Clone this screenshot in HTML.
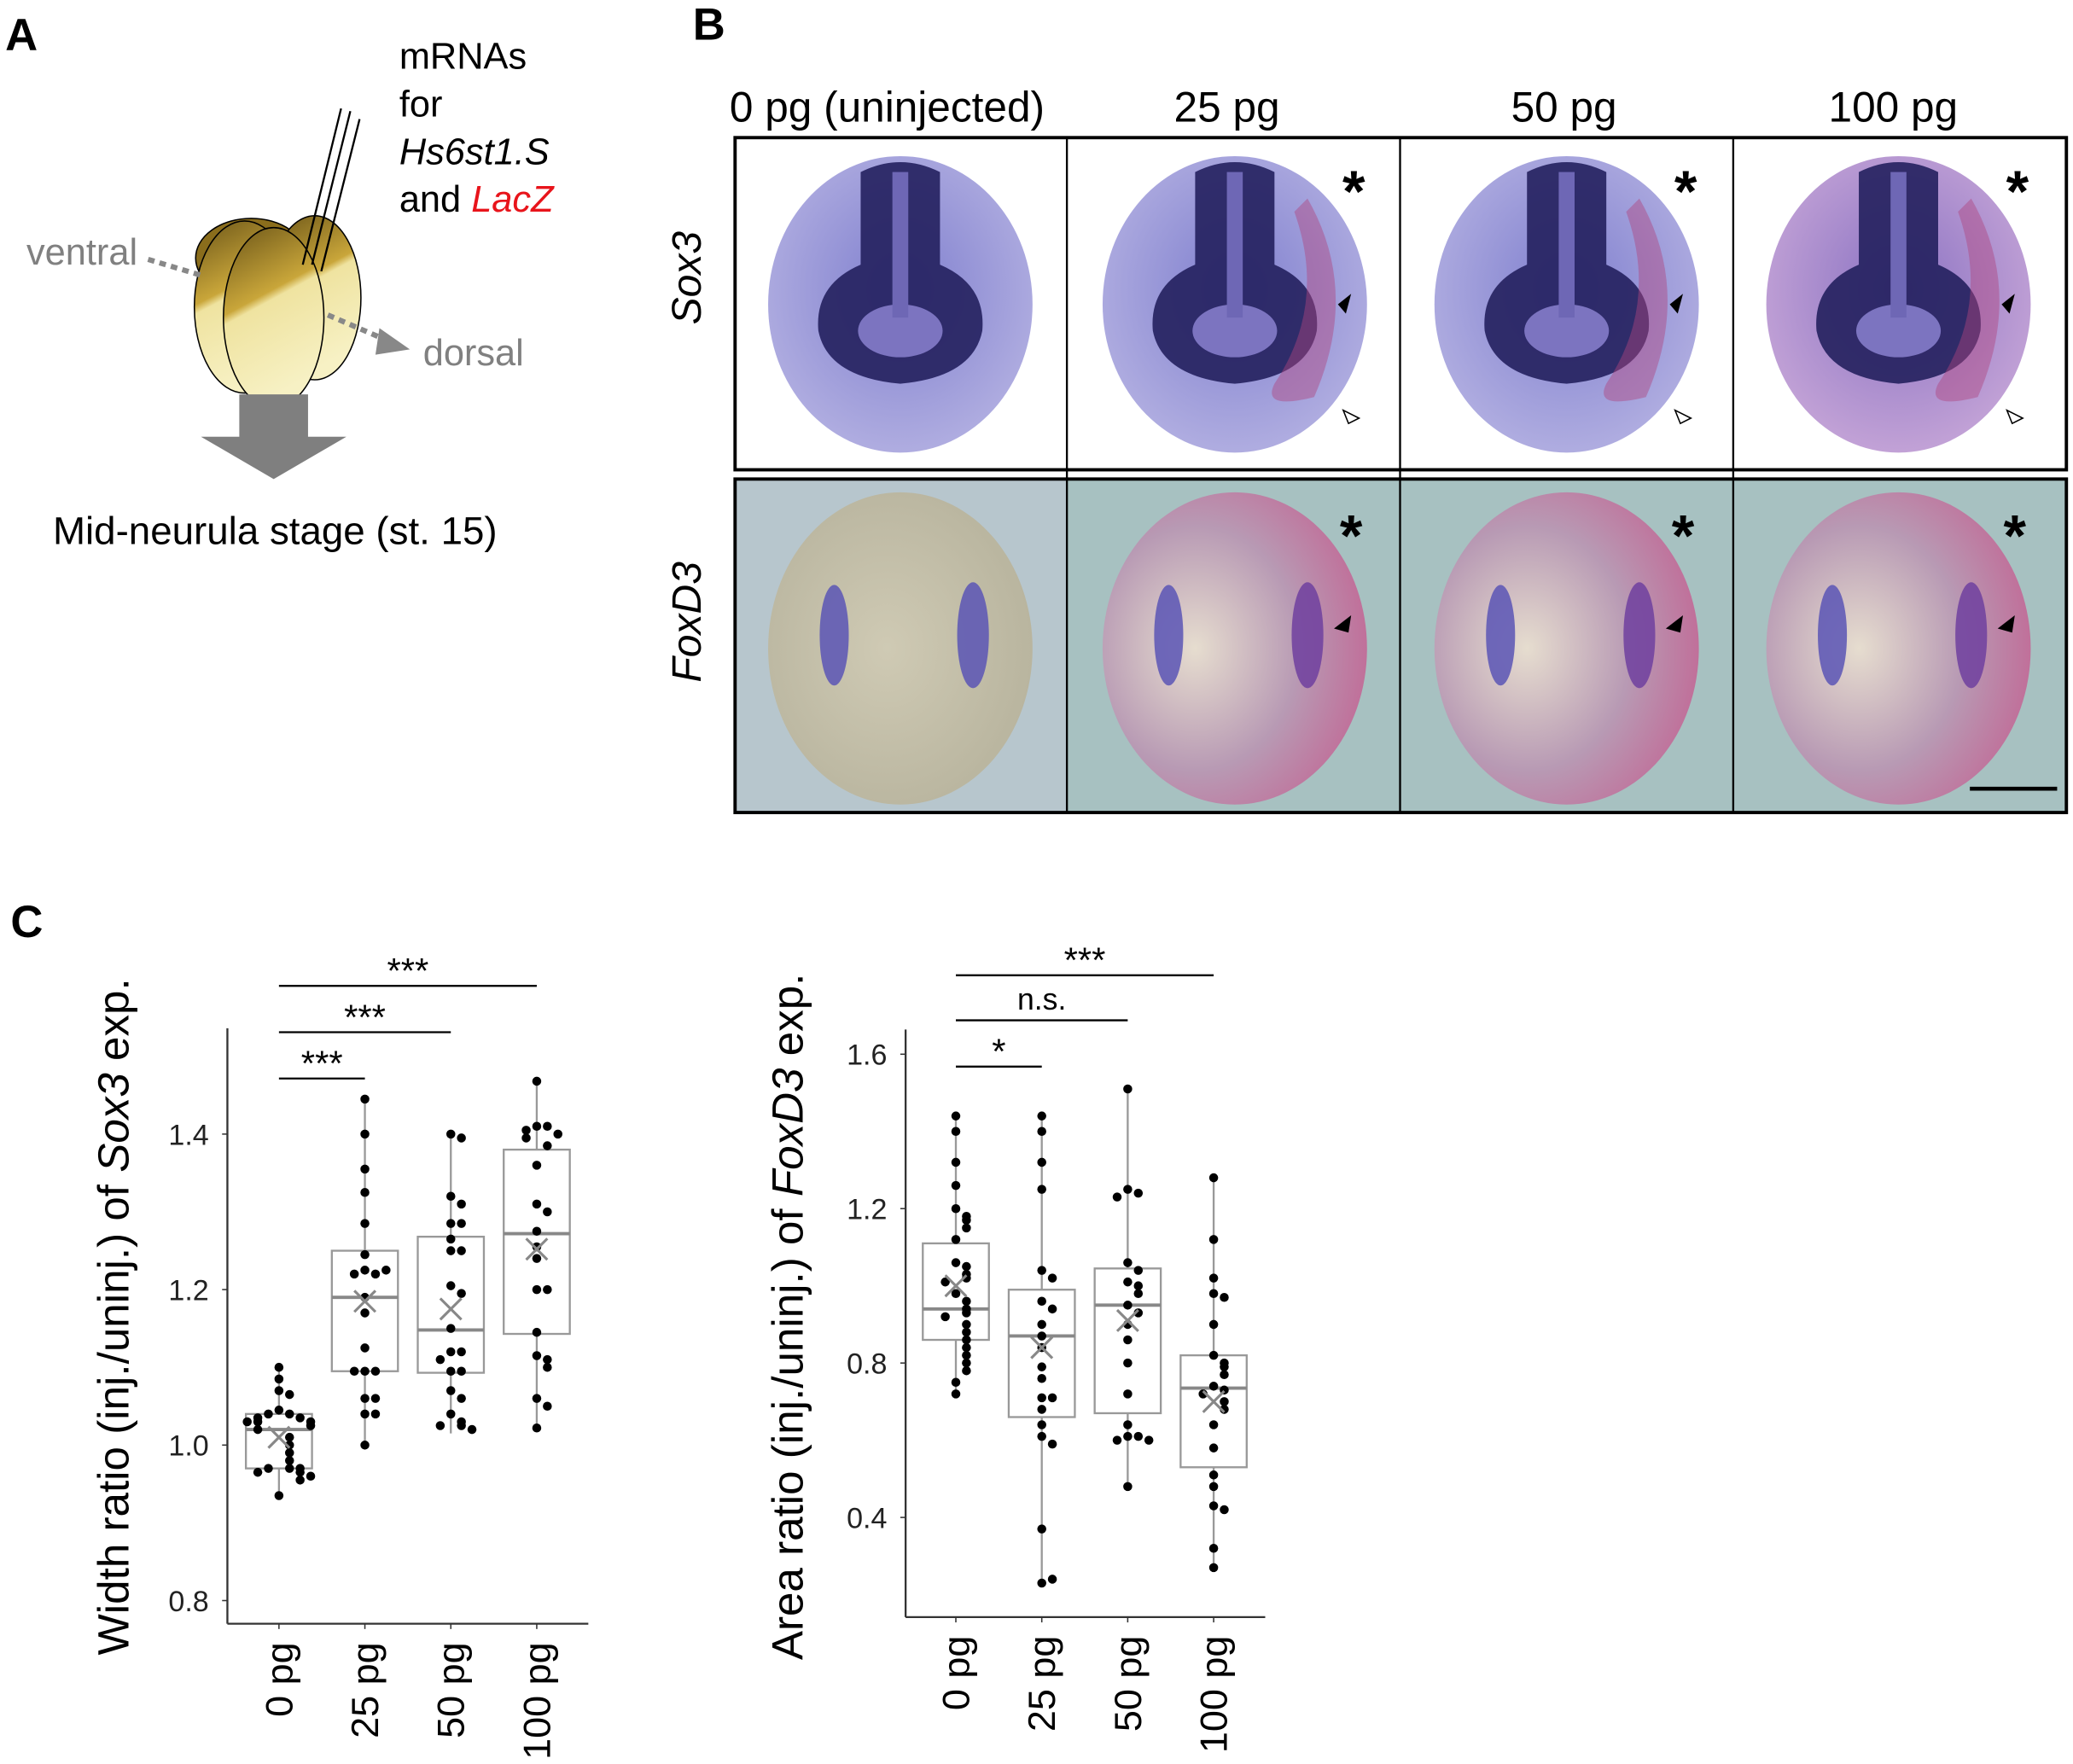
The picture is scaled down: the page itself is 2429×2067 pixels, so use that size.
<!DOCTYPE html>
<html><head><meta charset="utf-8">
<style>
html,body{margin:0;padding:0;background:#fff;}
svg{display:block;font-family:"Liberation Sans",Arial,sans-serif;}
</style></head>
<body>
<svg id="fig" width="2429" height="2067" viewBox="0 0 1568 1333" preserveAspectRatio="none" xmlns="http://www.w3.org/2000/svg">
<defs>
<linearGradient id="egg" x1="0" y1="0" x2="0.3" y2="1">
<stop offset="0" stop-color="#6b5518"/><stop offset="0.45" stop-color="#c9a63a"/><stop offset="0.5" stop-color="#efe3a0"/><stop offset="1" stop-color="#f7f1c4"/></linearGradient>
<radialGradient id="sox" cx="0.5" cy="0.45" r="0.6"><stop offset="0" stop-color="#7f7fce"/><stop offset="1" stop-color="#b4b1e2"/></radialGradient>
<radialGradient id="soxp" cx="0.5" cy="0.45" r="0.6"><stop offset="0" stop-color="#8a72c2"/><stop offset="1" stop-color="#c7a6d8"/></radialGradient>
<radialGradient id="fox" cx="0.45" cy="0.5" r="0.6"><stop offset="0" stop-color="#cfcab4"/><stop offset="1" stop-color="#b7b39d"/></radialGradient>
<radialGradient id="foxp" cx="0.35" cy="0.5" r="0.65"><stop offset="0" stop-color="#e6ddcf"/><stop offset="0.6" stop-color="#b89ab4"/><stop offset="1" stop-color="#c0709a"/></radialGradient>
</defs>

<!-- Panel A -->
<g>
<text x="4" y="38" font-size="34" font-weight="bold">A</text>
<text x="302" y="52" font-size="28">mRNAs</text>
<text x="302" y="88" font-size="28">for</text>
<text x="302" y="124" font-size="28" font-style="italic">Hs6st1.S</text>
<text x="302" y="160" font-size="28">and <tspan fill="#e8141b" font-style="italic">LacZ</tspan></text>
<g>
<ellipse cx="190" cy="195" rx="42" ry="30" fill="#8a6d1c" stroke="#000"/>
<ellipse cx="238" cy="225" rx="35" ry="62" fill="url(#egg)" stroke="#000"/>
<ellipse cx="185" cy="232" rx="38" ry="65" fill="url(#egg)" stroke="#000"/>
<ellipse cx="207" cy="240" rx="38" ry="68" fill="url(#egg)" stroke="#000"/>
</g>
<line x1="229" y1="200" x2="258" y2="82" stroke="#000" stroke-width="1.5"/>
<line x1="236" y1="200" x2="265" y2="84" stroke="#000" stroke-width="1.5"/>
<line x1="243" y1="205" x2="272" y2="90" stroke="#000" stroke-width="1.5"/>
<text x="20" y="200" font-size="28" fill="#808080">ventral</text>
<line x1="112" y1="196" x2="152" y2="208" stroke="#888" stroke-width="4" stroke-dasharray="5,4"/>
<line x1="248" y1="238" x2="290" y2="256" stroke="#888" stroke-width="4" stroke-dasharray="5,4"/>
<polygon points="287,248 310,264 284,268" fill="#888"/>
<text x="320" y="276" font-size="28" fill="#808080">dorsal</text>
<polygon points="181,298 233,298 233,330 262,330 207,362 152,330 181,330" fill="#7f7f7f"/>
<text x="40" y="411" font-size="29.5">Mid-neurula stage (st. 15)</text>
</g>

<!-- Panel B -->
<g>
<text x="524" y="30" font-size="34" font-weight="bold">B</text>
<g font-size="32" text-anchor="middle">
<text x="671" y="92">0 pg (uninjected)</text>
<text x="928" y="92">25 pg</text>
<text x="1183" y="92">50 pg</text>
<text x="1432" y="92">100 pg</text>
</g>
<text transform="translate(530,210) rotate(-90)" font-size="31" font-style="italic" text-anchor="middle">Sox3</text>
<text transform="translate(530,470) rotate(-90)" font-size="31" font-style="italic" text-anchor="middle">FoxD3</text>
<rect x="556" y="362" width="1007" height="252" fill="#a7c1c1"/>
<rect x="556" y="362" width="251" height="252" fill="#b7c6cd"/>
<g id="embryos"></g>
<g fill="none" stroke="#000" stroke-width="2.5">
<rect x="556" y="104" width="1007" height="251"/>
<rect x="556" y="362" width="1007" height="252"/>
<line x1="807" y1="104" x2="807" y2="614" stroke-width="1.5"/>
<line x1="1059" y1="104" x2="1059" y2="614" stroke-width="1.5"/>
<line x1="1311" y1="104" x2="1311" y2="614" stroke-width="1.5"/>
</g>
<line x1="1490" y1="596" x2="1556" y2="596" stroke="#000" stroke-width="3"/>
</g>

<!-- Panel C -->
<text x="8" y="708" font-size="34" font-weight="bold">C</text>
<g id="chart1"></g>
<g id="chart2"></g>
</svg>

<script>
// ---------- chart data ----------
const categories = ["0 pg", "25 pg", "50 pg", "100 pg"];
// Sox3 width ratio
const soxQ1 = [0.97, 1.095, 1.093, 1.143];
const soxMedian = [1.02, 1.19, 1.148, 1.272];
const soxQ3 = [1.04, 1.25, 1.268, 1.38];
const soxWhiskLo = [0.935, 1.0, 1.015, 1.022];
const soxWhiskHi = [1.10, 1.445, 1.40, 1.468];
const soxMean = [1.01, 1.185, 1.175, 1.252];
const soxPoints0 = [1.10,1.085,1.07,1.065,1.045,1.04,1.04,1.035,1.035,1.03,1.03,1.03,1.025,1.02,1.01,1.0,0.99,0.98,0.97,0.97,0.97,0.965,0.965,0.96,0.955,0.935];
const soxPoints25 = [1.445,1.40,1.355,1.325,1.285,1.245,1.225,1.22,1.22,1.225,1.19,1.17,1.125,1.095,1.095,1.095,1.06,1.06,1.04,1.04,1.0];
const soxPoints50 = [1.40,1.395,1.32,1.31,1.285,1.285,1.265,1.25,1.25,1.205,1.195,1.15,1.12,1.12,1.11,1.095,1.095,1.07,1.06,1.04,1.03,1.025,1.025,1.02];
const soxPoints100 = [1.468,1.41,1.41,1.405,1.40,1.395,1.385,1.36,1.31,1.30,1.275,1.255,1.24,1.20,1.20,1.145,1.115,1.11,1.10,1.06,1.05,1.022];
const soxTicks = [0.8, 1.0, 1.2, 1.4];
const soxTickLabels = ["0.8", "1.0", "1.2", "1.4"];
// FoxD3 area ratio
const foxQ1 = [0.86, 0.66, 0.67, 0.53];
const foxMedian = [0.94, 0.87, 0.95, 0.735];
const foxQ3 = [1.11, 0.99, 1.045, 0.82];
const foxWhiskLo = [0.72, 0.23, 0.48, 0.27];
const foxWhiskHi = [1.44, 1.44, 1.51, 1.28];
const foxMean = [1.0, 0.84, 0.91, 0.70];
const foxPoints0 = [1.44,1.40,1.32,1.26,1.20,1.18,1.17,1.15,1.12,1.06,1.05,1.03,1.02,1.01,0.98,0.96,0.94,0.93,0.92,0.90,0.88,0.86,0.84,0.82,0.80,0.78,0.75,0.72];
const foxPoints25 = [1.44,1.40,1.32,1.25,1.04,1.02,0.96,0.94,0.90,0.87,0.84,0.79,0.76,0.71,0.71,0.68,0.64,0.61,0.59,0.37,0.23,0.24];
const foxPoints50 = [1.51,1.25,1.24,1.23,1.06,1.04,1.01,1.00,0.98,0.95,0.93,0.90,0.86,0.80,0.72,0.64,0.61,0.61,0.60,0.60,0.48];
const foxPoints100 = [1.28,1.12,1.02,0.98,0.97,0.90,0.82,0.80,0.79,0.77,0.74,0.73,0.72,0.70,0.68,0.64,0.58,0.51,0.48,0.43,0.42,0.32,0.27];
const foxTicks = [0.4, 0.8, 1.2, 1.6];
const foxTickLabels = ["0.4", "0.8", "1.2", "1.6"];

const NS = "http://www.w3.org/2000/svg";
function mk(parent, tag, attrs, text) {
  const e = document.createElementNS(NS, tag);
  for (const k in attrs) e.setAttribute(k, attrs[k]);
  if (text !== undefined) e.textContent = text;
  parent.appendChild(e);
  return e;
}

function drawChart(gid, cfg) {
  const g = document.getElementById(gid);
  const y = v => cfg.y0 - (v - cfg.v0) * cfg.ppu;
  const x = i => cfg.xs + i * cfg.step;
  const ya = mk(g, "line", {x1: cfg.ax, y1: cfg.top, x2: cfg.ax, y2: cfg.bot, stroke: "#333", "stroke-width": 1.5});
  
  
  const xa = mk(g, "line", {x1: cfg.ax, y1: cfg.bot, x2: cfg.right, y2: cfg.bot, stroke: "#333", "stroke-width": 1.5});
  
  
  cfg.ticks.forEach((t, i) => {
    mk(g, "line", {x1: cfg.ax - 4, y1: y(t), x2: cfg.ax, y2: y(t), stroke: "#333"});
    const tl = mk(g, "text", {x: cfg.ax - 14, y: y(t) + 8, "font-size": 22, "text-anchor": "end", fill: "#222"}, cfg.tickLabels[i]);
    
    
  });
  const tt = mk(g, "text", {transform: `translate(${cfg.titleX},${cfg.titleY}) rotate(-90)`, "font-size": 33, "text-anchor": "middle"});
  
  
  mk(tt, "tspan", {}, cfg.title1);
  mk(tt, "tspan", {"font-style": "italic"}, cfg.gene);
  mk(tt, "tspan", {}, " exp.");
  categories.forEach((c, i) => {
    mk(g, "line", {x1: x(i), y1: cfg.bot, x2: x(i), y2: cfg.bot + 4, stroke: "#333"});
    const xl = mk(g, "text", {transform: `translate(${x(i) + 10},${cfg.bot + 14}) rotate(-90)`, "font-size": 29, "text-anchor": "end"}, c);
    
    
    const cx = x(i), hw = 25;
    const wh = mk(g, "line", {x1: cx, y1: y(cfg.lo[i]), x2: cx, y2: y(cfg.hi[i]), stroke: "#999", "stroke-width": 1.5});
    
    
    const bx = mk(g, "rect", {x: cx - hw, y: y(cfg.q3[i]), width: hw * 2, height: y(cfg.q1[i]) - y(cfg.q3[i]), fill: "#fff", stroke: "#999", "stroke-width": 1.5});
    
    
    const md = mk(g, "line", {x1: cx - hw, y1: y(cfg.med[i]), x2: cx + hw, y2: y(cfg.med[i]), stroke: "#888", "stroke-width": 2.5});
    
    
    const pts = cfg.points[i];
    pts.forEach((v, j) => {
      let k = 0;
      for (let m = 0; m < j; m++) if (Math.abs(pts[m] - v) < cfg.tol) k++;
      const off = k === 0 ? 0 : (k % 2 ? 1 : -1) * Math.ceil(k / 2) * 8;
      const d = mk(g, "circle", {cx: cx + off, cy: y(v), r: 3.4, fill: "#000"});
      
      
    });
    const my = y(cfg.mean[i]);
    const mm = mk(g, "path", {d: `M${cx-8},${my-8}L${cx+8},${my+8}M${cx-8},${my+8}L${cx+8},${my-8}`, stroke: "#888", "stroke-width": 2, fill: "none"});
    
    
  });
  cfg.sig.forEach(s => {
    const l = mk(g, "line", {x1: x(0), y1: s.y, x2: x(s.to), y2: s.y, stroke: "#000", "stroke-width": 1.5});
    
    
    const t = mk(g, "text", {x: (x(0) + x(s.to)) / 2, y: s.y - (s.label === "n.s." ? 8 : 2), "font-size": s.label === "n.s." ? 23 : 27, "text-anchor": "middle"}, s.label);
    
    
  });
}

drawChart("chart1", {
  y0: 1092, v0: 1.0, ppu: 587.5, xs: 211, step: 65, ax: 172, top: 777, bot: 1227, right: 445,
  ticks: soxTicks, tickLabels: soxTickLabels, titleX: 97, titleY: 995,
  title1: "Width ratio (inj./uninj.) of ", gene: "Sox3",
  q1: soxQ1, med: soxMedian, q3: soxQ3, lo: soxWhiskLo, hi: soxWhiskHi, mean: soxMean,
  points: [soxPoints0, soxPoints25, soxPoints50, soxPoints100], tol: 0.012,
  sig: [{y: 745, to: 3, label: "***"}, {y: 780, to: 2, label: "***"}, {y: 815, to: 1, label: "***"}]
});
drawChart("chart2", {
  y0: 1030, v0: 0.8, ppu: 291.7, xs: 723, step: 65, ax: 685, top: 778, bot: 1222, right: 957,
  ticks: foxTicks, tickLabels: foxTickLabels, titleX: 607, titleY: 995,
  title1: "Area ratio (inj./uninj.) of ", gene: "FoxD3",
  q1: foxQ1, med: foxMedian, q3: foxQ3, lo: foxWhiskLo, hi: foxWhiskHi, mean: foxMean,
  points: [foxPoints0, foxPoints25, foxPoints50, foxPoints100], tol: 0.025,
  sig: [{y: 737, to: 3, label: "***"}, {y: 771, to: 2, label: "n.s."}, {y: 806, to: 1, label: "*"}]
});

// ---------- embryo photos (illustrative) ----------
const eg = document.getElementById("embryos");
const colX = [681, 934, 1185, 1436];
colX.forEach((cx, i) => {
  const e1 = mk(eg, "ellipse", {cx: cx, cy: 230, rx: 100, ry: 112, fill: i === 3 ? "url(#soxp)" : "url(#sox)"});
  
  
  mk(eg, "path", {d: `M${cx-30},${130} Q${cx},115 ${cx+30},130 L${cx+30},200 Q${cx+65},215 ${cx+62},250 Q${cx+55},285 ${cx},290 Q${cx-55},285 ${cx-62},250 Q${cx-65},215 ${cx-30},200 Z`, fill: "#24205e", opacity: 0.9});
  mk(eg, "ellipse", {cx: cx, cy: 250, rx: 32, ry: 20, fill: "#7c74c0"});
  mk(eg, "rect", {x: cx - 6, y: 130, width: 12, height: 110, fill: "#6e67b5"});
  if (i > 0) {
    mk(eg, "path", {d: `M${cx+55},150 Q${cx+95},220 ${cx+60},300 Q${cx+20},310 ${cx+30},290 Q${cx+70},230 ${cx+45},160 Z`, fill: "#b0457e", opacity: 0.45});
    mk(eg, "text", {x: cx + 90, y: 160, "font-size": 44, "text-anchor": "middle", "font-weight": "bold"}, "*");
    mk(eg, "polygon", {points: `${cx+78},230 ${cx+88},222 ${cx+84},237`, fill: "#000"});
    mk(eg, "polygon", {points: `${cx+82},310 ${cx+94},316 ${cx+86},320`, fill: "#fff", stroke: "#000"});
  }
  const e2 = mk(eg, "ellipse", {cx: cx, cy: 490, rx: 100, ry: 118, fill: i === 0 ? "url(#fox)" : "url(#foxp)"});
  
  
  mk(eg, "ellipse", {cx: cx - 50, cy: 480, rx: 11, ry: 38, fill: "#5a55b5", opacity: 0.85});
  mk(eg, "ellipse", {cx: cx + 55, cy: 480, rx: 12, ry: 40, fill: i === 0 ? "#5a55b5" : "#6f3f9f", opacity: 0.85});
  if (i > 0) {
    mk(eg, "text", {x: cx + 88, y: 420, "font-size": 44, "text-anchor": "middle", "font-weight": "bold"}, "*");
    mk(eg, "polygon", {points: `${cx+75},475 ${cx+88},465 ${cx+86},478`, fill: "#000"});
  }
});
</script>
</body></html>
